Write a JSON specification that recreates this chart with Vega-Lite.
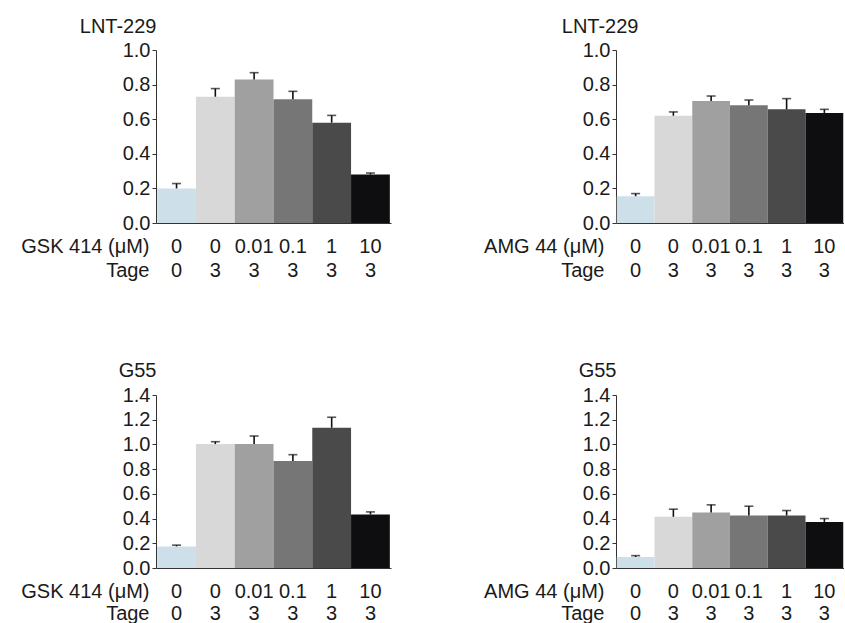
{
  "$schema": "https://vega.github.io/schema/vega-lite/v6.json",
  "background": "white",
  "padding": {"left": 20, "top": 16, "right": 0, "bottom": 0},
  "config": {
    "view": {"stroke": null},
    "font": "Liberation Sans",
    "axis": {"grid": false, "domainColor": "#333333", "tickColor": "#333333", "labelColor": "#1a1a1a", "titleColor": "#1a1a1a", "labelFontSize": 20, "titleFontSize": 20, "titleFontWeight": "normal", "labelFont": "Liberation Sans", "titleFont": "Liberation Sans", "labelOverlap": false, "labelFlush": false, "labelBound": false}
  },
  "data": {
    "values": [
      {"panel": "A", "cat": "0|0", "value": 0.20, "err": 0.228},
      {"panel": "A", "cat": "0|3", "value": 0.73, "err": 0.777},
      {"panel": "A", "cat": "0.01|3", "value": 0.83, "err": 0.869},
      {"panel": "A", "cat": "0.1|3", "value": 0.715, "err": 0.761},
      {"panel": "A", "cat": "1|3", "value": 0.58, "err": 0.622},
      {"panel": "A", "cat": "10|3", "value": 0.28, "err": 0.289},
      {"panel": "B", "cat": "0|0", "value": 0.155, "err": 0.17},
      {"panel": "B", "cat": "0|3", "value": 0.62, "err": 0.642},
      {"panel": "B", "cat": "0.01|3", "value": 0.705, "err": 0.734},
      {"panel": "B", "cat": "0.1|3", "value": 0.68, "err": 0.711},
      {"panel": "B", "cat": "1|3", "value": 0.657, "err": 0.719},
      {"panel": "B", "cat": "10|3", "value": 0.636, "err": 0.657},
      {"panel": "C", "cat": "0|0", "value": 0.175, "err": 0.185},
      {"panel": "C", "cat": "0|3", "value": 1.003, "err": 1.022},
      {"panel": "C", "cat": "0.01|3", "value": 1.003, "err": 1.068},
      {"panel": "C", "cat": "0.1|3", "value": 0.865, "err": 0.917},
      {"panel": "C", "cat": "1|3", "value": 1.135, "err": 1.22},
      {"panel": "C", "cat": "10|3", "value": 0.433, "err": 0.454},
      {"panel": "D", "cat": "0|0", "value": 0.089, "err": 0.10},
      {"panel": "D", "cat": "0|3", "value": 0.414, "err": 0.476},
      {"panel": "D", "cat": "0.01|3", "value": 0.449, "err": 0.511},
      {"panel": "D", "cat": "0.1|3", "value": 0.425, "err": 0.50},
      {"panel": "D", "cat": "1|3", "value": 0.425, "err": 0.465},
      {"panel": "D", "cat": "10|3", "value": 0.373, "err": 0.40}
    ]
  },
  "columns": 2,
  "spacing": {"row": 172, "column": 225},
  "bounds": "flush",
  "concat": [
    {
      "width": 235, "height": 173,
      "transform": [{"filter": "datum.panel === 'A'"}],
      "encoding": {
        "x": {"field": "cat", "type": "nominal", "sort": null,
          "scale": {"paddingInner": 0, "paddingOuter": 0.03},
          "axis": {"title": ["GSK 414 (μM)", "Tage"], "labelExpr": "split(datum.value, '|')", "labelAngle": 0, "ticks": false, "tickSize": 0, "labelPadding": 13, "labelBaseline": "top", "labelLineHeight": 24,
            "titleAlign": "right", "titleBaseline": "top", "titleAnchor": "start", "titleX": -7, "titleY": 13, "titleLineHeight": 24}}
      },
      "layer": [
        {"mark": {"type": "bar"},
          "encoding": {
            "y": {"field": "value", "type": "quantitative", "scale": {"domain": [0, 1.0], "nice": false}, "title": "LNT-229",
              "axis": {"values": [0, 0.2, 0.4, 0.6, 0.8, 1.0], "format": ".1f", "tickSize": 4, "labelPadding": 2, "titleAngle": 0, "titleAlign": "right", "titleBaseline": "alphabetic", "titleX": 0, "titleY": -18}},
            "color": {"field": "cat", "type": "nominal", "legend": null, "scale": {"domain": ["0|0", "0|3", "0.01|3", "0.1|3", "1|3", "10|3"], "range": ["#cde0ea", "#d8d8d8", "#a0a0a0", "#767676", "#4a4a4a", "#0e0e10"]}}
          }},
        {"mark": {"type": "rule", "color": "#111111", "strokeWidth": 1.6},
          "encoding": {"y": {"field": "value", "type": "quantitative", "title": "LNT-229",
              "axis": {"values": [0, 0.2, 0.4, 0.6, 0.8, 1.0], "format": ".1f", "tickSize": 4, "labelPadding": 2, "titleAngle": 0, "titleAlign": "right", "titleBaseline": "alphabetic", "titleX": 0, "titleY": -18}}, "y2": {"field": "err"}}},
        {"mark": {"type": "tick", "color": "#111111", "thickness": 1.6, "size": 9},
          "encoding": {"y": {"field": "err", "type": "quantitative", "title": "LNT-229",
              "axis": {"values": [0, 0.2, 0.4, 0.6, 0.8, 1.0], "format": ".1f", "tickSize": 4, "labelPadding": 2, "titleAngle": 0, "titleAlign": "right", "titleBaseline": "alphabetic", "titleX": 0, "titleY": -18}}}}
      ]
    },
    {
      "width": 228, "height": 173,
      "transform": [{"filter": "datum.panel === 'B'"}],
      "encoding": {
        "x": {"field": "cat", "type": "nominal", "sort": null,
          "scale": {"paddingInner": 0, "paddingOuter": 0.02},
          "axis": {"title": ["AMG 44 (μM)", "Tage"], "labelExpr": "split(datum.value, '|')", "labelAngle": 0, "ticks": false, "tickSize": 0, "labelPadding": 13, "labelBaseline": "top", "labelLineHeight": 24,
            "titleAlign": "right", "titleBaseline": "top", "titleAnchor": "start", "titleX": -12, "titleY": 13, "titleLineHeight": 24}}
      },
      "layer": [
        {"mark": {"type": "bar"},
          "encoding": {
            "y": {"field": "value", "type": "quantitative", "scale": {"domain": [0, 1.0], "nice": false}, "title": "LNT-229",
              "axis": {"values": [0, 0.2, 0.4, 0.6, 0.8, 1.0], "format": ".1f", "tickSize": 4, "labelPadding": 2, "titleAngle": 0, "titleAlign": "right", "titleBaseline": "alphabetic", "titleX": 22, "titleY": -18}},
            "color": {"field": "cat", "type": "nominal", "legend": null, "scale": {"domain": ["0|0", "0|3", "0.01|3", "0.1|3", "1|3", "10|3"], "range": ["#cde0ea", "#d8d8d8", "#a0a0a0", "#767676", "#4a4a4a", "#0e0e10"]}}
          }},
        {"mark": {"type": "rule", "color": "#111111", "strokeWidth": 1.6},
          "encoding": {"y": {"field": "value", "type": "quantitative", "title": "LNT-229",
              "axis": {"values": [0, 0.2, 0.4, 0.6, 0.8, 1.0], "format": ".1f", "tickSize": 4, "labelPadding": 2, "titleAngle": 0, "titleAlign": "right", "titleBaseline": "alphabetic", "titleX": 22, "titleY": -18}}, "y2": {"field": "err"}}},
        {"mark": {"type": "tick", "color": "#111111", "thickness": 1.6, "size": 9},
          "encoding": {"y": {"field": "err", "type": "quantitative", "title": "LNT-229",
              "axis": {"values": [0, 0.2, 0.4, 0.6, 0.8, 1.0], "format": ".1f", "tickSize": 4, "labelPadding": 2, "titleAngle": 0, "titleAlign": "right", "titleBaseline": "alphabetic", "titleX": 22, "titleY": -18}}}}
      ]
    },
    {
      "width": 235, "height": 173,
      "transform": [{"filter": "datum.panel === 'C'"}],
      "encoding": {
        "x": {"field": "cat", "type": "nominal", "sort": null,
          "scale": {"paddingInner": 0, "paddingOuter": 0.03},
          "axis": {"title": ["GSK 414 (μM)", "Tage"], "labelExpr": "split(datum.value, '|')", "labelAngle": 0, "ticks": false, "tickSize": 0, "labelPadding": 13, "labelBaseline": "top", "labelLineHeight": 22,
            "titleAlign": "right", "titleBaseline": "top", "titleAnchor": "start", "titleX": -7, "titleY": 13, "titleLineHeight": 22}}
      },
      "layer": [
        {"mark": {"type": "bar"},
          "encoding": {
            "y": {"field": "value", "type": "quantitative", "scale": {"domain": [0, 1.4], "nice": false}, "title": "G55",
              "axis": {"values": [0, 0.2, 0.4, 0.6, 0.8, 1.0, 1.2, 1.4], "format": ".1f", "tickSize": 4, "labelPadding": 2, "titleAngle": 0, "titleAlign": "right", "titleBaseline": "alphabetic", "titleX": 0, "titleY": -19}},
            "color": {"field": "cat", "type": "nominal", "legend": null, "scale": {"domain": ["0|0", "0|3", "0.01|3", "0.1|3", "1|3", "10|3"], "range": ["#cde0ea", "#d8d8d8", "#a0a0a0", "#767676", "#4a4a4a", "#0e0e10"]}}
          }},
        {"mark": {"type": "rule", "color": "#111111", "strokeWidth": 1.6},
          "encoding": {"y": {"field": "value", "type": "quantitative", "title": "G55",
              "axis": {"values": [0, 0.2, 0.4, 0.6, 0.8, 1.0, 1.2, 1.4], "format": ".1f", "tickSize": 4, "labelPadding": 2, "titleAngle": 0, "titleAlign": "right", "titleBaseline": "alphabetic", "titleX": 0, "titleY": -19}}, "y2": {"field": "err"}}},
        {"mark": {"type": "tick", "color": "#111111", "thickness": 1.6, "size": 9},
          "encoding": {"y": {"field": "err", "type": "quantitative", "title": "G55",
              "axis": {"values": [0, 0.2, 0.4, 0.6, 0.8, 1.0, 1.2, 1.4], "format": ".1f", "tickSize": 4, "labelPadding": 2, "titleAngle": 0, "titleAlign": "right", "titleBaseline": "alphabetic", "titleX": 0, "titleY": -19}}}}
      ]
    },
    {
      "width": 228, "height": 173,
      "transform": [{"filter": "datum.panel === 'D'"}],
      "encoding": {
        "x": {"field": "cat", "type": "nominal", "sort": null,
          "scale": {"paddingInner": 0, "paddingOuter": 0.02},
          "axis": {"title": ["AMG 44 (μM)", "Tage"], "labelExpr": "split(datum.value, '|')", "labelAngle": 0, "ticks": false, "tickSize": 0, "labelPadding": 13, "labelBaseline": "top", "labelLineHeight": 22,
            "titleAlign": "right", "titleBaseline": "top", "titleAnchor": "start", "titleX": -12, "titleY": 13, "titleLineHeight": 22}}
      },
      "layer": [
        {"mark": {"type": "bar"},
          "encoding": {
            "y": {"field": "value", "type": "quantitative", "scale": {"domain": [0, 1.4], "nice": false}, "title": "G55",
              "axis": {"values": [0, 0.2, 0.4, 0.6, 0.8, 1.0, 1.2, 1.4], "format": ".1f", "tickSize": 4, "labelPadding": 2, "titleAngle": 0, "titleAlign": "right", "titleBaseline": "alphabetic", "titleX": 0, "titleY": -19}},
            "color": {"field": "cat", "type": "nominal", "legend": null, "scale": {"domain": ["0|0", "0|3", "0.01|3", "0.1|3", "1|3", "10|3"], "range": ["#cde0ea", "#d8d8d8", "#a0a0a0", "#767676", "#4a4a4a", "#0e0e10"]}}
          }},
        {"mark": {"type": "rule", "color": "#111111", "strokeWidth": 1.6},
          "encoding": {"y": {"field": "value", "type": "quantitative", "title": "G55",
              "axis": {"values": [0, 0.2, 0.4, 0.6, 0.8, 1.0, 1.2, 1.4], "format": ".1f", "tickSize": 4, "labelPadding": 2, "titleAngle": 0, "titleAlign": "right", "titleBaseline": "alphabetic", "titleX": 0, "titleY": -19}}, "y2": {"field": "err"}}},
        {"mark": {"type": "tick", "color": "#111111", "thickness": 1.6, "size": 9},
          "encoding": {"y": {"field": "err", "type": "quantitative", "title": "G55",
              "axis": {"values": [0, 0.2, 0.4, 0.6, 0.8, 1.0, 1.2, 1.4], "format": ".1f", "tickSize": 4, "labelPadding": 2, "titleAngle": 0, "titleAlign": "right", "titleBaseline": "alphabetic", "titleX": 0, "titleY": -19}}}}
      ]
    }
  ]
}
